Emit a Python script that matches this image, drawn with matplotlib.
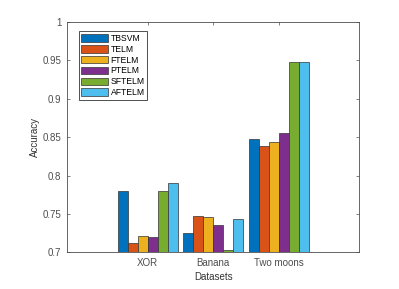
import numpy as np
import matplotlib.pyplot as plt

# ── Data ──────────────────────────────────────────────────────────────────────

datasets = ["XOR", "Banana", "Two moons"]
methods = ["TBSVM", "TELM", "FTELM", "PTELM", "SFTELM", "AFTELM"]
colors = ["#0072BD", "#D95319", "#EDB120", "#7E2F8E", "#77AC30", "#4DBEEE"]

tbsvm = [0.780, 0.725, 0.848]
telm = [0.712, 0.747, 0.838]
ftelm = [0.721, 0.746, 0.844]
ptelm = [0.720, 0.735, 0.855]
sftelm = [0.780, 0.703, 0.948]
aftelm = [0.790, 0.743, 0.948]
scores = [tbsvm, telm, ftelm, ptelm, sftelm, aftelm]

# ── Plot ──────────────────────────────────────────────────────────────────────

plt.rcParams['font.family'] = ['Liberation Sans', 'DejaVu Sans']
axis_col = "#4d4d4d"

fig = plt.figure(figsize=(3.99, 2.89), dpi=100)
ax = fig.add_axes([0.168, 0.127, 0.733, 0.797])

x = np.arange(1, len(datasets) + 1)
w = 0.91 / len(methods)
for i, (name, vals, c) in enumerate(zip(methods, scores, colors)):
    ax.bar(x + (i - 2.5) * w, vals, width=w, color=c, label=name,
           edgecolor="#333333", linewidth=0.5, zorder=2)

ax.set_xlim(-0.23, 4.23)
ax.set_ylim(0.7, 1.0)
ax.set_xticks(x)
ax.set_xticklabels(datasets)
ax.set_yticks([0.7, 0.75, 0.8, 0.85, 0.9, 0.95, 1.0])
ax.set_yticklabels(["0.7", "0.75", "0.8", "0.85", "0.9", "0.95", "1"])
ax.tick_params(direction="in", length=2.5, width=0.5, colors=axis_col,
               labelsize=7, top=True, right=True, pad=4)
for s in ax.spines.values():
    s.set_color(axis_col)
    s.set_linewidth(0.6)

ax.set_xlabel("Datasets", fontsize=7, color="#333333", labelpad=3)
ax.set_ylabel("Accuracy", fontsize=7, color="#333333", labelpad=2)

leg = ax.legend(loc="upper left", bbox_to_anchor=(0.04, 0.96), fontsize=6.2,
                handlelength=3.1, handleheight=1.0, handletextpad=0.3,
                labelspacing=0.22, borderpad=0.3, borderaxespad=0,
                fancybox=False, framealpha=1)
leg.get_frame().set_edgecolor("#333333")
leg.get_frame().set_linewidth(0.6)

plt.savefig("out.png", dpi=100)
